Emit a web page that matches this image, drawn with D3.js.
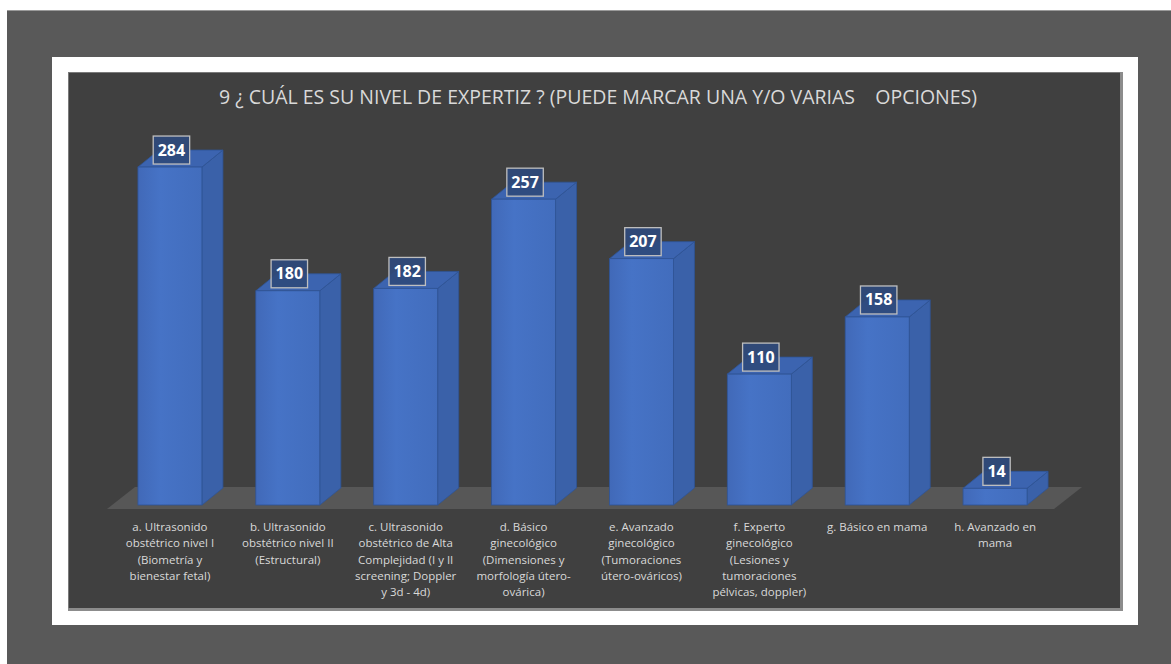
<!DOCTYPE html>
<html>
<head>
<meta charset="utf-8">
<script src="https://cdn.jsdelivr.net/npm/d3@7"></script>
<style>
  body { margin: 0; background: #fff; }
  svg { display: block; }
</style>
</head>
<body>
<svg width="1171" height="664"></svg>
<script>
var categories = ["a", "b", "c", "d", "e", "f", "g", "h"];
var values = [284, 180, 182, 257, 207, 110, 158, 14];
var labelLines = [
  ["a. Ultrasonido", "obstétrico nivel I", "(Biometría y", "bienestar fetal)"],
  ["b. Ultrasonido", "obstétrico nivel II", "(Estructural)"],
  ["c. Ultrasonido", "obstétrico de Alta", "Complejidad (I y II", "screening; Doppler", "y 3d - 4d)"],
  ["d. Básico", "ginecológico", "(Dimensiones y", "morfología útero-", "ovárica)"],
  ["e. Avanzado", "ginecológico", "(Tumoraciones", "útero-ováricos)"],
  ["f. Experto", "ginecológico", "(Lesiones y", "tumoraciones", "pélvicas, doppler)"],
  ["g. Básico en mama"],
  ["h. Avanzado en", "mama"]
];
var title = "9 ¿ CUÁL ES SU NIVEL DE EXPERTIZ ? (PUEDE MARCAR UNA Y/O VARIAS\u00a0\u00a0\u00a0\u00a0OPCIONES)";

var svg = d3.select("svg"),
    width = +svg.attr("width"),
    height = +svg.attr("height");

var font = "'Open Sans', 'Noto Sans', sans-serif";

// outer frames
svg.append("rect").attr("x", 7).attr("y", 10).attr("width", width - 7).attr("height", height - 10)
    .attr("fill", "#595959");
svg.append("rect").attr("x", 7).attr("y", 10).attr("width", width - 7).attr("height", 1)
    .attr("fill", "#9a9a9a");
svg.append("rect").attr("x", 52).attr("y", 57).attr("width", 1086).attr("height", 568)
    .attr("fill", "#ffffff");
svg.append("rect").attr("x", 68).attr("y", 72).attr("width", 1055).attr("height", 539)
    .attr("fill", "#8c8c8c");
svg.append("rect").attr("x", 68).attr("y", 72).attr("width", 1052).attr("height", 536)
    .attr("fill", "#404040");
svg.append("rect").attr("x", 68).attr("y", 72).attr("width", 1052).attr("height", 1)
    .attr("fill", "#7a7a7a");
svg.append("rect").attr("x", 68).attr("y", 72).attr("width", 1).attr("height", 536)
    .attr("fill", "#7a7a7a");

svg.append("text")
    .attr("x", 598).attr("y", 104)
    .attr("text-anchor", "middle")
    .attr("font-family", font)
    .attr("font-size", 19.5)
    .attr("fill", "#d9d9d9")
    .text(title);

var x = d3.scaleBand().domain(categories).range([111, 1054]).paddingInner(0).paddingOuter(0);
var y = d3.scaleLinear().domain([0, 300]).range([505, 148]);

var barW = 64, dx = 21, dy = 17;

// floor
var fx0 = 107, fx1 = 1054, fy = 509, fdx = 28, fdy = 22;
svg.append("path")
    .attr("d", "M" + fx0 + "," + fy + "L" + fx1 + "," + fy + "L" + (fx1 + fdx) + "," + (fy - fdy) +
      "L" + (fx0 + fdx) + "," + (fy - fdy) + "Z")
    .attr("fill", "#575757");

var defs = svg.append("defs");
var grad = defs.append("linearGradient").attr("id", "front").attr("x1", 0).attr("x2", 1).attr("y1", 0).attr("y2", 0);
grad.append("stop").attr("offset", "0%").attr("stop-color", "#4169b8");
grad.append("stop").attr("offset", "35%").attr("stop-color", "#4673c6");
grad.append("stop").attr("offset", "100%").attr("stop-color", "#426dbd");

var bars = svg.append("g").selectAll("g")
    .data(values)
    .enter().append("g");

bars.each(function(v, i) {
  var g = d3.select(this);
  var x0 = x(categories[i]) + (x.bandwidth() - barW) / 2,
      x1 = x0 + barW,
      top = y(v),
      bot = y(0);
  // side
  g.append("path")
      .attr("d", "M" + x1 + "," + top + "L" + (x1 + dx) + "," + (top - dy) + "L" + (x1 + dx) + "," + (bot - dy) +
        "L" + x1 + "," + bot + "Z")
      .attr("fill", "#3a61a9").attr("stroke", "#2f5496").attr("stroke-width", 0.8);
  // top
  g.append("path")
      .attr("d", "M" + x0 + "," + top + "L" + (x0 + dx) + "," + (top - dy) + "L" + (x1 + dx) + "," + (top - dy) +
        "L" + x1 + "," + top + "Z")
      .attr("fill", "#3c64b0").attr("stroke", "#2f5496").attr("stroke-width", 0.8);
  // front
  g.append("rect")
      .attr("x", x0).attr("y", top).attr("width", barW).attr("height", bot - top)
      .attr("fill", "url(#front)").attr("stroke", "#2f5496").attr("stroke-width", 0.8);

  // value label
  var cx = x0 + barW / 2 + 1.5;
  var txt = g.append("text")
      .attr("x", cx)
      .attr("text-anchor", "middle")
      .attr("font-family", font)
      .attr("font-weight", "bold")
      .attr("font-size", 16)
      .attr("fill", "#ffffff")
      .text(v);
  var tw = txt.node().getComputedTextLength();
  g.insert("rect", "text")
      .attr("x", cx - tw / 2 - 4.5).attr("y", top - 3 - 28)
      .attr("width", tw + 9).attr("height", 28)
      .attr("fill", "#2f4a7c").attr("fill-opacity", 0.92)
      .attr("stroke", "#bfbfbf").attr("stroke-width", 1.3);
  txt.attr("y", top - 3 - 8.5);
});

// category labels
var lab = svg.append("g").selectAll("text")
    .data(labelLines)
    .enter().append("text")
    .attr("text-anchor", "middle")
    .attr("font-family", font)
    .attr("font-size", 11.5)
    .attr("fill", "#d9d9d9")
    .attr("transform", function(d, i) { return "translate(" + (x(categories[i]) + x.bandwidth() / 2) + ",531)"; });

lab.selectAll("tspan")
    .data(function(d) { return d; })
    .enter().append("tspan")
    .attr("x", 0)
    .attr("y", function(d, j) { return j * 16.3; })
    .text(function(d) { return d; });
</script>
</body>
</html>
